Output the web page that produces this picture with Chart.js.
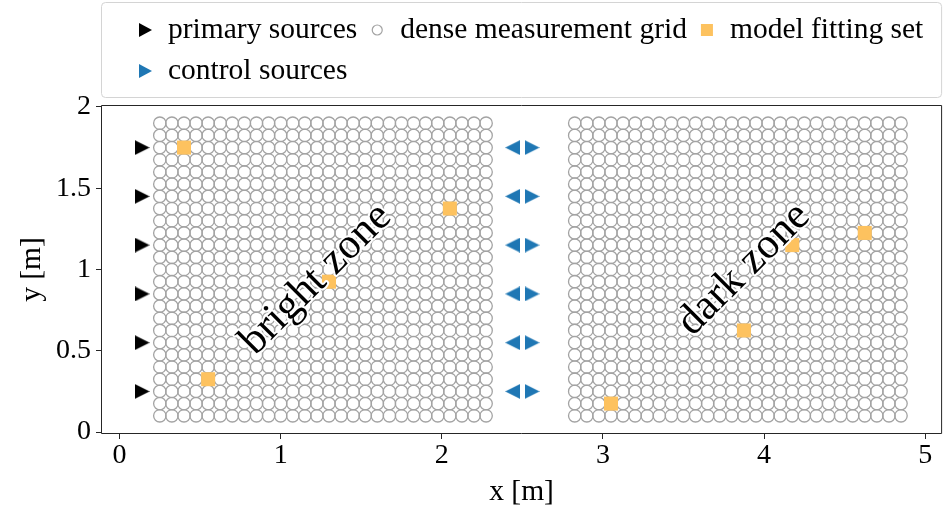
<!DOCTYPE html>
<html>
<head>
<meta charset="utf-8">
<script src="https://cdn.jsdelivr.net/npm/chart.js@4"></script>
<style>
html, body { margin: 0; padding: 0; background: #fff; }
#wrap { width: 952px; height: 511px; }
</style>
</head>
<body>
<div id="wrap"><canvas id="zones" width="952" height="511"></canvas></div>
<script>
// ===== DATA (metres) =====
const gridColsBright = [0.25, 0.325, 0.4, 0.475, 0.55, 0.625, 0.7, 0.775, 0.85, 0.925, 1.0, 1.075, 1.15, 1.225,
    1.3, 1.375, 1.45, 1.525, 1.6, 1.675, 1.75, 1.825, 1.9, 1.975, 2.05, 2.125, 2.2, 2.275];
const gridColsDark = [2.825, 2.9, 2.975, 3.05, 3.125, 3.2, 3.275, 3.35, 3.425, 3.5, 3.575, 3.65, 3.725, 3.8,
    3.875, 3.95, 4.025, 4.1, 4.175, 4.25, 4.325, 4.4, 4.475, 4.55, 4.625, 4.7, 4.775, 4.85];
const gridRows = [0.1, 0.175, 0.25, 0.325, 0.4, 0.475, 0.55, 0.625, 0.7, 0.775, 0.85, 0.925, 1.0, 1.075,
    1.15, 1.225, 1.3, 1.375, 1.45, 1.525, 1.6, 1.675, 1.75, 1.825, 1.9];

const primaryX = [0.14, 0.14, 0.14, 0.14, 0.14, 0.14];
const primaryY = [1.75, 1.45, 1.15, 0.85, 0.55, 0.25];

const controlLeftX = [2.44, 2.44, 2.44, 2.44, 2.44, 2.44];
const controlRightX = [2.56, 2.56, 2.56, 2.56, 2.56, 2.56];
const controlY = [1.75, 1.45, 1.15, 0.85, 0.55, 0.25];

const fitX = [0.4, 0.55, 1.3, 2.05, 3.05, 3.875, 4.175, 4.625];
const fitY = [1.75, 0.325, 0.925, 1.375, 0.175, 0.625, 1.15, 1.225];

const zoneText = ['bright zone', 'dark zone'];
const zoneX = [1.22, 3.875];
const zoneY = [0.94, 1.0];

const xTicks = [0, 1, 2, 3, 4, 5];
const yTicks = [0, 0.5, 1, 1.5, 2];

// ===== MARKERS =====
const SERIF = '"Liberation Serif", "DejaVu Serif", serif';
const BLUE = '#1f77b4', ORANGE = '#fdc25f', RING = '#a3a3a3';

function triangle(size, color, dir) {
    const c = document.createElement('canvas');
    c.width = size; c.height = size;
    const g = c.getContext('2d');
    g.fillStyle = color;
    g.beginPath();
    if (dir === 'right') {
        g.moveTo(0, 0); g.lineTo(size, size / 2); g.lineTo(0, size);
    } else {
        g.moveTo(size, 0); g.lineTo(0, size / 2); g.lineTo(size, size);
    }
    g.closePath();
    g.fill();
    return c;
}

const triBlack = triangle(15, '#000', 'right');
const triBlueR = triangle(15, BLUE, 'right');
const triBlueL = triangle(15, BLUE, 'left');

const pts = (xs, ys) => xs.map((x, i) => ({ x, y: ys[i] }));
const gridPts = [];
gridColsBright.concat(gridColsDark).forEach(x => gridRows.forEach(y => gridPts.push({ x, y })));

// ===== PLUGINS =====
const whiteBg = {
    id: 'whiteBg',
    beforeDraw(chart) {
        const ctx = chart.ctx;
        ctx.save();
        ctx.fillStyle = '#fff';
        ctx.fillRect(0, 0, chart.width, chart.height);
        ctx.restore();
    }
};

const frameAndText = {
    id: 'frameAndText',
    afterDatasetsDraw(chart) {
        const { ctx, chartArea: a, scales: { x, y } } = chart;
        ctx.save();
        // zone labels with white halo
        ctx.font = '43px ' + SERIF;
        ctx.textAlign = 'center';
        ctx.textBaseline = 'middle';
        ctx.lineJoin = 'round';
        zoneText.forEach((t, i) => {
            ctx.save();
            ctx.translate(x.getPixelForValue(zoneX[i]), y.getPixelForValue(zoneY[i]));
            ctx.rotate(-Math.PI / 4);
            ctx.lineWidth = 4;
            ctx.strokeStyle = '#fff';
            ctx.strokeText(t, 0, 0);
            ctx.fillStyle = '#000';
            ctx.fillText(t, 0, 0);
            ctx.restore();
        });
        // full box spines
        ctx.strokeStyle = '#262626';
        ctx.lineWidth = 1;
        ctx.strokeRect(a.left + 0.5, a.top + 0.5, a.right - a.left - 1, a.bottom - a.top - 1);
        ctx.restore();
    }
};

// legend laid out like the matplotlib one (3 columns, filled column by column)
const legendCols = [[0, 4], [2], [1]];
const boxLegend = {
    id: 'boxLegend',
    afterDraw(chart) {
        const { ctx, chartArea: a } = chart;
        const ds = chart.data.datasets;
        ctx.save();
        ctx.strokeStyle = '#d4d4d4';
        ctx.lineWidth = 1;
        ctx.beginPath();
        ctx.roundRect(a.left + 0.5, 2.5, a.right - a.left - 1, 95, 4);
        ctx.stroke();

        ctx.font = '29.5px ' + SERIF;
        ctx.textBaseline = 'middle';
        ctx.fillStyle = '#000';
        const rowY = [30, 71];
        let mx = 145;
        legendCols.forEach(col => {
            let w = 0;
            col.forEach((di, r) => {
                const cy = rowY[r];
                const d = ds[di];
                ctx.save();
                if (d.legendMark === 'tri') {
                    ctx.fillStyle = d.legendColor;
                    ctx.beginPath();
                    ctx.moveTo(mx - 6, cy - 7); ctx.lineTo(mx + 7, cy); ctx.lineTo(mx - 6, cy + 7);
                    ctx.closePath(); ctx.fill();
                } else if (d.legendMark === 'ring') {
                    ctx.strokeStyle = RING;
                    ctx.lineWidth = 1.2;
                    ctx.beginPath(); ctx.arc(mx, cy, 5, 0, Math.PI * 2); ctx.stroke();
                } else {
                    ctx.fillStyle = ORANGE;
                    ctx.fillRect(mx - 6, cy - 6, 12, 12);
                }
                ctx.restore();
                ctx.fillText(d.label, mx + 23, cy);
                w = Math.max(w, ctx.measureText(d.label).width);
            });
            mx += 23 + w + 20;
        });
        ctx.restore();
    }
};

// ===== CHART =====
// lower dataset index is drawn on top, so the fitting set comes before the grid
new Chart(document.getElementById('zones'), {
    type: 'scatter',
    data: {
        datasets: [
            { label: 'primary sources', data: pts(primaryX, primaryY), pointStyle: triBlack,
              legendMark: 'tri', legendColor: '#000' },
            { label: 'model fitting set', data: pts(fitX, fitY), pointStyle: 'rect', pointRadius: 9.9,
              borderWidth: 0, backgroundColor: ORANGE, legendMark: 'square' },
            { label: 'dense measurement grid', data: gridPts, pointStyle: 'circle', pointRadius: 6.2,
              borderWidth: 1.3, borderColor: RING, backgroundColor: 'rgba(255,255,255,0)', legendMark: 'ring' },
            { label: 'control sources', data: pts(controlLeftX, controlY), pointStyle: triBlueL },
            { label: 'control sources', data: pts(controlRightX, controlY), pointStyle: triBlueR,
              legendMark: 'tri', legendColor: BLUE }
        ]
    },
    options: {
        responsive: false,
        animation: false,
        events: [],
        layout: { padding: { top: 105, right: 6, bottom: 0, left: 0 } },
        plugins: { legend: { display: false }, tooltip: { enabled: false } },
        scales: {
            x: {
                type: 'linear', min: -0.115, max: 5.105,
                afterFit: s => { s.height = 77; },
                afterBuildTicks: s => { s.ticks = xTicks.map(v => ({ value: v })); },
                border: { display: false },
                grid: { drawOnChartArea: false, drawTicks: true, tickLength: 5, color: '#262626' },
                ticks: { padding: 0, color: '#000', font: { family: SERIF, size: 28 }, callback: v => String(v) },
                title: { display: true, text: 'x [m]', color: '#000', font: { family: SERIF, size: 29.5 },
                         padding: { top: 0, bottom: 1 } }
            },
            y: {
                type: 'linear', min: -0.012, max: 2.012,
                afterFit: s => { s.width = 101; },
                afterBuildTicks: s => { s.ticks = yTicks.map(v => ({ value: v })); },
                border: { display: false },
                grid: { drawOnChartArea: false, drawTicks: true, tickLength: 5, color: '#262626' },
                ticks: { padding: 5, color: '#000', font: { family: SERIF, size: 28 }, callback: v => String(v) },
                title: { display: true, text: 'y [m]', color: '#000', font: { family: SERIF, size: 29.5 },
                         padding: { top: 15, bottom: 0 } }
            }
        }
    },
    plugins: [whiteBg, frameAndText, boxLegend]
});
</script>
</body>
</html>
